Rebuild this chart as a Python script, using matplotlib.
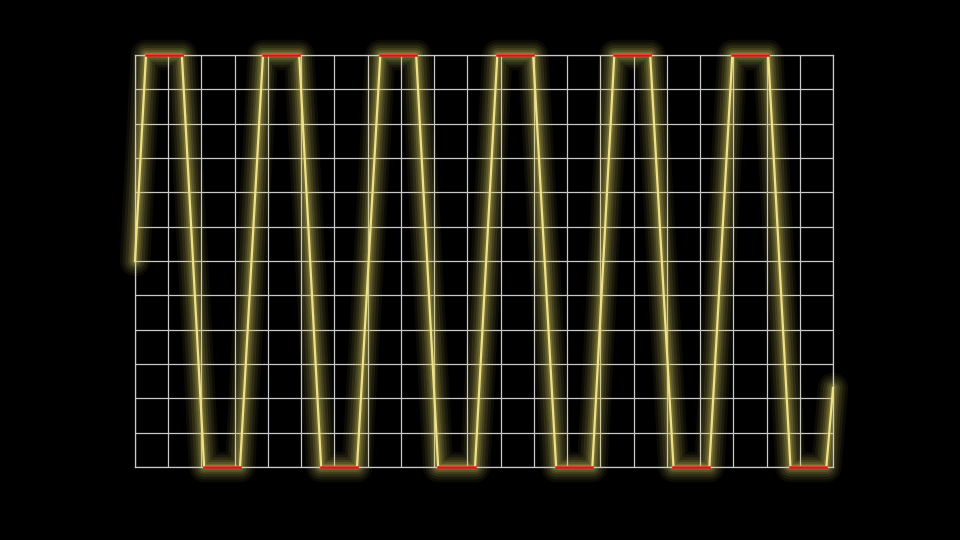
import numpy as np
import matplotlib
matplotlib.use('Agg')
import matplotlib.pyplot as plt

# corner points of the clipped wave (grid units)
x_pts = [0.0, 0.33, 1.41, 2.08, 3.16, 3.85, 4.94, 5.60, 6.68, 7.38, 8.46,
         9.12, 10.23, 10.90, 11.98, 12.67, 13.76, 14.42, 15.50, 16.20, 17.28,
         17.97, 19.05, 19.72, 20.80, 21.0]
y_pts = [0, 6, 6, -6, -6, 6, 6, -6, -6, 6, 6,
         -6, -6, 6, 6, -6, -6, 6, 6, -6, -6,
         6, 6, -6, -6, -3.7]
clip_level = 6

x = np.array(x_pts)
y = np.array(y_pts, dtype=float)

fig = plt.figure(figsize=(9.6, 5.4), dpi=100, facecolor='black')
ax = fig.add_axes([135/960, 1-467/540, 698/960, 412/540])
ax.set_facecolor('black')

ax.set_xlim(0, 21)
ax.set_ylim(-6, 6)
ax.set_xticks(np.arange(0, 22, 1))
ax.set_yticks(np.arange(-6, 7, 1))
ax.tick_params(length=0, labelbottom=False, labelleft=False)
ax.grid(True, color='#c8c8c8', linewidth=0.9)
ax.set_axisbelow(True)
for s in ax.spines.values():
    s.set_color('#c8c8c8')
    s.set_linewidth(0.9)

# glow
for lw, a in [(22, 0.06), (18, 0.08), (14, 0.10), (10, 0.13), (7, 0.16), (4, 0.22)]:
    ax.plot(x, y, color='#d8cc60', linewidth=lw, alpha=a,
            solid_capstyle='round', solid_joinstyle='round', clip_on=False)
ax.plot(x, y, color='#f0e08a', linewidth=1.6, clip_on=False, zorder=3)

# red on the clipped parts
for i in range(len(x) - 1):
    if abs(y[i]) == clip_level and y[i] == y[i+1]:
        ax.plot([x[i], x[i+1]], [y[i], y[i+1]], color='#d81414',
                linewidth=1.8, clip_on=False, zorder=4)

fig.savefig('out.png', dpi=100, facecolor='black')
